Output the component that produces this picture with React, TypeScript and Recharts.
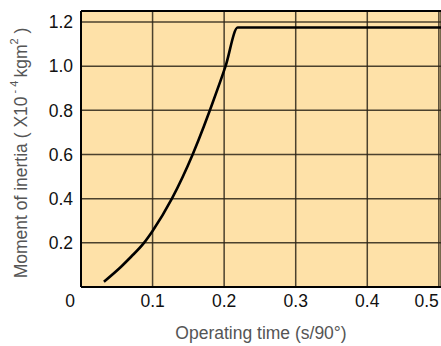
import { CartesianGrid, Label, Line, LineChart, ReferenceLine, XAxis, YAxis } from "recharts";

const times = [0.032, 0.056, 0.07, 0.088, 0.1, 0.127, 0.156, 0.172, 0.18, 0.202, 0.219, 0.503];
const inertia = [0.024, 0.092, 0.137, 0.2, 0.254, 0.4, 0.6, 0.73, 0.8, 1.0, 1.175, 1.175];
const xTicks = [0, 0.1, 0.2, 0.3, 0.4, 0.5];
const yTicks = [0.2, 0.4, 0.6, 0.8, 1.0, 1.2];

const data = times.map((t, i) => ({ t, j: inertia[i] }));

const font = "'Liberation Sans', Arial, sans-serif";

function XTick(props: any) {
    const { x, y, payload } = props;
    const v = payload.value;
    let anchor = "middle";
    let dx = 0;
    if (v === 0) dx = -11;
    if (v === 0.5) anchor = "end";
    return (
        <text x={x + dx} y={y} dy="0.71em" textAnchor={anchor} fontSize={17.5} fontFamily={font} fill="#111">
            {v === 0 ? "0" : v.toFixed(1)}
        </text>
    );
}

function YTitle() {
    return (
        <text
            x={22}
            y={153}
            transform="rotate(-90 22 153)"
            textAnchor="middle"
            dominantBaseline="middle"
            fontSize={17.5}
            fontFamily={font}
            fill="#555"
        >
            Moment of inertia ( X10
            <tspan dy={-7} fontSize={11}> - 4 </tspan>
            <tspan dy={7}>kgm</tspan>
            <tspan dy={-7} fontSize={11}>2</tspan>
            <tspan dy={7}> )</tspan>
        </text>
    );
}

export default function App() {
    return (
        <div style={{ position: "absolute", left: 0, top: 0 }}>
            <LineChart width={441} height={346} data={data} margin={{ top: 11, right: 0, bottom: 0, left: 0 }}>
                <CartesianGrid fill="#FEE1A8" fillOpacity={1} stroke="#2b2418" strokeOpacity={0.85} strokeWidth={1.5} />
                <XAxis
                    dataKey="t"
                    type="number"
                    domain={[0, 0.503]}
                    ticks={xTicks}
                    height={59}
                    tickLine={false}
                    axisLine={{ stroke: "#000", strokeWidth: 2 }}
                    tick={<XTick />}
                    interval={0}
                >
                    <Label value="Operating time (s/90°)" position="insideBottom" offset={7} fontSize={17.5} fontFamily={font} fill="#555" />
                </XAxis>
                <YAxis
                    type="number"
                    domain={[0, 1.25]}
                    ticks={yTicks}
                    width={81}
                    tickLine={false}
                    axisLine={{ stroke: "#000", strokeWidth: 2 }}
                    tick={{ fontSize: 17.5, fontFamily: font, fill: "#111" }}
                    tickFormatter={(v: number) => v.toFixed(1)}
                    interval={0}
                    label={<YTitle />}
                />
                <ReferenceLine y={1.25} stroke="#000" strokeWidth={2} />
                <Line type="monotone" dataKey="j" stroke="#000" strokeWidth={2.6} dot={false} isAnimationActive={false} />
            </LineChart>
        </div>
    );
}
